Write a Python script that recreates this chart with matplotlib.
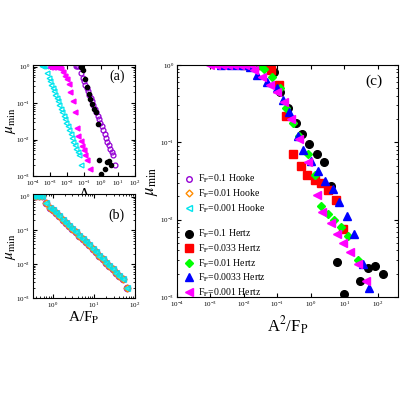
import numpy as np
import matplotlib
matplotlib.use("Agg")
import matplotlib.pyplot as plt
from matplotlib.lines import Line2D

plt.rcParams['font.family'] = ['Liberation Serif', 'DejaVu Serif']
plt.rcParams['mathtext.fontset'] = 'stix'

# Hertz data (x = A^2/Fp, mu)
h01_x = [0.05,0.08,0.12,0.2,0.35,0.55,0.9,1.5,2.5,4,6,10,30,50,80,140]
h01_y = [1.0,0.8,0.45,0.28,0.18,0.13,0.095,0.07,0.055,0.027,0.0028,0.0011,0.0016,0.0024,0.0025,0.002]
h033_x = [0.012,0.018,0.025,0.033,0.042,0.065,0.11,0.18,0.3,0.5,0.75,1.3,2,3.3,5.5,9]
h033_y = [1,1,1,1,1,0.85,0.55,0.22,0.07,0.05,0.038,0.033,0.03,0.024,0.018,0.0075]
h01b_x = [0.004,0.007,0.012,0.02,0.03,0.04,0.07,0.12,0.18,0.3,0.45,0.8,1.3,2,3.3,5,8,13,25]
h01b_y = [1,1,1,1,1,0.9,0.7,0.5,0.28,0.18,0.12,0.07,0.038,0.015,0.012,0.010,0.008,0.0062,0.003]
h0033_x = [0.002,0.004,0.007,0.01,0.015,0.025,0.05,0.1,0.15,0.22,0.4,0.6,1,1.6,2.7,4.5,7,12,20,35,55]
h0033_y = [1,1,1,1,0.95,0.75,0.6,0.5,0.35,0.25,0.12,0.08,0.058,0.043,0.032,0.025,0.017,0.011,0.0065,0.0027,0.0013]
h001_x = [0.001,0.0015,0.0022,0.0033,0.005,0.0075,0.011,0.016,0.02,0.035,0.06,0.1,0.16,0.25,0.45,0.8,1.5,2.2,4,6,9,15,25,45]
h001_y = [1,1,1,1,1,1,1,1,0.85,0.7,0.55,0.45,0.33,0.2,0.11,0.055,0.021,0.0125,0.009,0.0065,0.005,0.0038,0.0027,0.0016]

# Hooke master curve (A/Fp, mu)
hk_r = [0.33,0.4,0.47,0.55,0.7,0.85,1.0,1.2,1.45,1.75,2.1,2.5,3.0,3.6,4.4,5.3,6.4,7.7,9.3,11.2,13.5,16.3,19.7,23.8,28.7,34.6,41.8,50,65]
hk_mu = [1.05,1.05,1.05,1.05,0.65,0.47,0.4,0.32,0.26,0.21,0.17,0.135,0.11,0.088,0.07,0.056,0.045,0.036,0.029,0.023,0.018,0.014,0.011,0.0088,0.007,0.0055,0.0045,0.0037,0.002]

fig = plt.figure(figsize=(4,4), dpi=100)
W = H = 400.0
def ax_at(l, t, r, b):
    return fig.add_axes([l/W, 1-b/H, (r-l)/W, (b-t)/H])
axa = ax_at(33, 65, 135, 176)
axb = ax_at(33, 194, 135, 298)
axc = ax_at(177, 65, 398, 297)

hr = np.array(hk_r); hm = np.array(hk_mu)
purple = '#9400d3'; orange = '#ff8c00'; cyan = '#00e5ee'; mag = '#ff00ff'

# (a)
axa.plot(hr*0.1, hm, 'o', mfc='none', mec=purple, ms=3.5, mew=0.9)
axa.plot(hr*0.001, hm, '<', mfc='none', mec=cyan, ms=3.5, mew=0.9)
axa.plot(np.sqrt(np.array(h01_x)*0.1), h01_y, 'o', color='k', ms=3)
axa.plot(np.sqrt(np.array(h001_x)*0.001), h001_y, '<', color=mag, ms=3.5)
axa.set_xlim(1e-4, 1e2); axa.set_ylim(1e-3, 1.1)
axa.set_xlabel('A', fontsize=11, labelpad=0)
axa.set_ylabel(r'$\mu_{\rm min}$', fontsize=11, labelpad=-1)
axa.text(0.9, 0.9, '(a)', transform=axa.transAxes, ha='right', va='center', fontsize=10)

# (b)
axb.plot(hr, hm, 'o', mfc='none', mec=purple, ms=4.5, mew=1)
axb.plot(hr, hm, 'D', mfc='none', mec=orange, ms=3.5, mew=1)
axb.plot(hr, hm, '<', mfc=cyan, mec=cyan, ms=4, alpha=0.8)
axb.set_xlim(0.33, 100); axb.set_ylim(1e-3, 1.2)
axb.set_xlabel(r'A/F$_{\rm P}$', fontsize=11, labelpad=0)
axb.set_ylabel(r'$\mu_{\rm min}$', fontsize=11, labelpad=-1)
axb.text(0.9, 0.8, '(b)', transform=axb.transAxes, ha='right', va='center', fontsize=10)

# (c)
axc.plot(h01_x, h01_y, 'o', color='k', ms=5.5)
axc.plot(h033_x, h033_y, 's', color='#ff0000', ms=5.5)
axc.plot(h01b_x, h01b_y, 'D', color='#00ff00', ms=4.5)
axc.plot(h0033_x, h0033_y, '^', color='#0000ff', ms=6)
axc.plot(h001_x, h001_y, '<', color=mag, ms=6)
axc.set_xlim(1e-4, 4e2); axc.set_ylim(1e-3, 1.0)
axc.set_xlabel(r'A$^2$/F$_{\rm P}$', fontsize=12, labelpad=4)
axc.set_ylabel(r'$\mu_{\rm min}$', fontsize=12, labelpad=0)
axc.text(0.93, 0.96, '(c)', transform=axc.transAxes, ha='right', va='top', fontsize=11)

handles = [
    Line2D([], [], ls='none', marker='o', mfc='none', mec=purple, ms=4),
    Line2D([], [], ls='none', marker='D', mfc='none', mec=orange, ms=3.5),
    Line2D([], [], ls='none', marker='<', mfc='none', mec=cyan, ms=4),
    Line2D([], [], ls='none'),
    Line2D([], [], ls='none', marker='o', color='k', ms=5.5),
    Line2D([], [], ls='none', marker='s', color='#ff0000', ms=5.5),
    Line2D([], [], ls='none', marker='D', color='#00ff00', ms=4.5),
    Line2D([], [], ls='none', marker='^', color='#0000ff', ms=6),
    Line2D([], [], ls='none', marker='<', color=mag, ms=6),
]
labels = [r'F$_{\rm P}$=0.1 Hooke', r'F$_{\rm P}$=0.01 Hooke', r'F$_{\rm P}$=0.001 Hooke', '',
          r'F$_{\rm P}$=0.1 Hertz', r'F$_{\rm P}$=0.033 Hertz', r'F$_{\rm P}$=0.01 Hertz',
          r'F$_{\rm P}$=0.0033 Hertz', r'F$_{\rm P}$=0.001 Hertz']
axc.legend(handles, labels, loc='upper left', bbox_to_anchor=(0.0, 0.56), frameon=False,
           fontsize=7, handletextpad=0.4, labelspacing=0.22, borderaxespad=0.2, handlelength=1.2)

for ax in (axa, axb, axc):
    ax.set_xscale('log'); ax.set_yscale('log')
    ax.tick_params(which='both', direction='in', top=True, right=True, labelsize=5, pad=2)
    ax.tick_params(which='major', length=3)
    ax.tick_params(which='minor', length=1.5)
    ax.yaxis.set_major_locator(matplotlib.ticker.LogLocator(base=10, numticks=10))
    ax.xaxis.set_major_locator(matplotlib.ticker.LogLocator(base=10, numticks=12))
    ax.yaxis.set_minor_locator(matplotlib.ticker.LogLocator(base=10, subs=np.arange(2,10), numticks=20))
    ax.xaxis.set_minor_locator(matplotlib.ticker.LogLocator(base=10, subs=np.arange(2,10), numticks=20))
    for s in ax.spines.values(): s.set_linewidth(0.8)
axc.xaxis.set_minor_locator(matplotlib.ticker.NullLocator())
axa.xaxis.set_minor_locator(matplotlib.ticker.NullLocator())

fig.savefig('out.png', dpi=100)
